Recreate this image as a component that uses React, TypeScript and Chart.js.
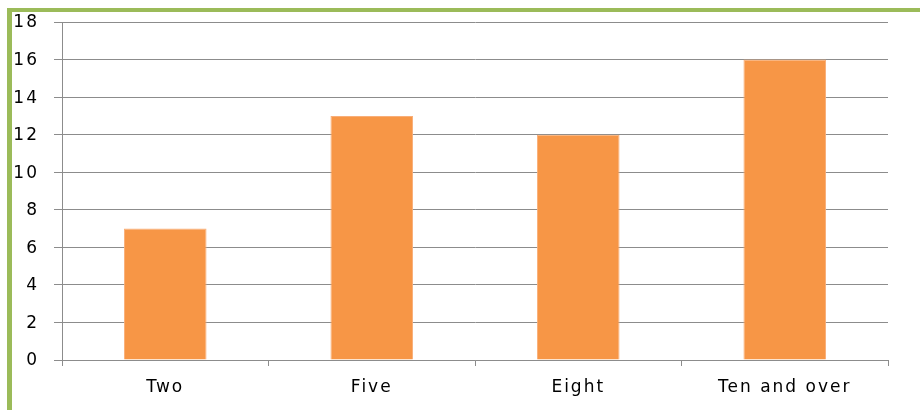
import React, { useEffect, useRef } from "react";
import { Chart, registerables } from "chart.js";

Chart.register(...registerables);

const categories = ["Two", "Five", "Eight", "Ten and over"];
const values = [7, 13, 12, 16];
const yMin = 0;
const yMax = 18;
const yStep = 2;

const X_SPACING = "2px";
const Y_SPACING = "2px";

function patchScale(chart: any, id: string, spacing: string) {
  const s = chart.scales[id];
  if (!s || s.__patched) return;
  const orig = s.drawLabels.bind(s);
  s.drawLabels = (area: any) => {
    const ctx = chart.ctx as any;
    const prev = ctx.letterSpacing;
    ctx.letterSpacing = spacing;
    ctx.save();
    ctx.translate(0, 1);
    orig(area);
    ctx.restore();
    ctx.letterSpacing = prev;
  };
  s.__patched = true;
}

const spacingPlugin = {
  id: "letterSpacing",
  afterUpdate(chart: any) {
    patchScale(chart, "x", X_SPACING);
    patchScale(chart, "y", Y_SPACING);
  },
};

export default function App() {
  const ref = useRef<HTMLCanvasElement | null>(null);
  useEffect(() => {
    document.body.style.margin = "0";
    const canvas = ref.current;
    if (!canvas) return;
    const chart = new Chart(canvas, {
      type: "bar",
      data: {
        labels: categories,
        datasets: [
          {
            data: values,
            backgroundColor: "#F79646",
            borderColor: "#F9AE78",
            borderWidth: 1,
            categoryPercentage: 1,
            barPercentage: 0.4,
          },
        ],
      },
      options: {
        responsive: false,
        animation: false,
        layout: { padding: { left: 0, right: 32, top: 22, bottom: 0 } },
        plugins: { legend: { display: false }, tooltip: { enabled: false } },
        scales: {
          x: {
            offset: true,
            grid: {
              offset: true,
              drawOnChartArea: false,
              drawTicks: true,
              tickLength: 6,
              color: "#8C8C8C",
            },
            border: { color: "#8C8C8C", width: 1 },
            ticks: {
              color: "#000",
              font: { family: "DejaVu Sans", size: 17 },
              padding: 10,
              maxRotation: 0,
            },
            afterFit(scale: any) {
              scale.height = 50;
              scale.paddingLeft = 0;
              scale.paddingRight = 0;
            },
          },
          y: {
            min: yMin,
            max: yMax,
            grid: {
              color: "#8C8C8C",
              tickLength: 8,
              lineWidth: 1,
            },
            border: { color: "#8C8C8C", width: 1 },
            ticks: {
              stepSize: yStep,
              color: "#000",
              font: { family: "DejaVu Sans", size: 17 },
              padding: 15,
            },
            afterFit(scale: any) {
              scale.width = 62;
              scale.paddingTop = 0;
              scale.paddingBottom = 0;
            },
          },
        },
      },
      plugins: [spacingPlugin],
    });
    return () => chart.destroy();
  }, []);
  return (
    <div style={{ position: "fixed", left: 0, top: 0, width: 920, height: 410, background: "#fff" }}>
      <canvas ref={ref} width={920} height={410} style={{ position: "absolute", left: 0, top: 0 }} />
      <div
        style={{
          position: "absolute",
          left: 7,
          top: 8,
          right: 0,
          bottom: 0,
          borderLeft: "5px solid #9BBB59",
          borderTop: "4px solid #9BBB59",
          pointerEvents: "none",
        }}
      />
    </div>
  );
}
